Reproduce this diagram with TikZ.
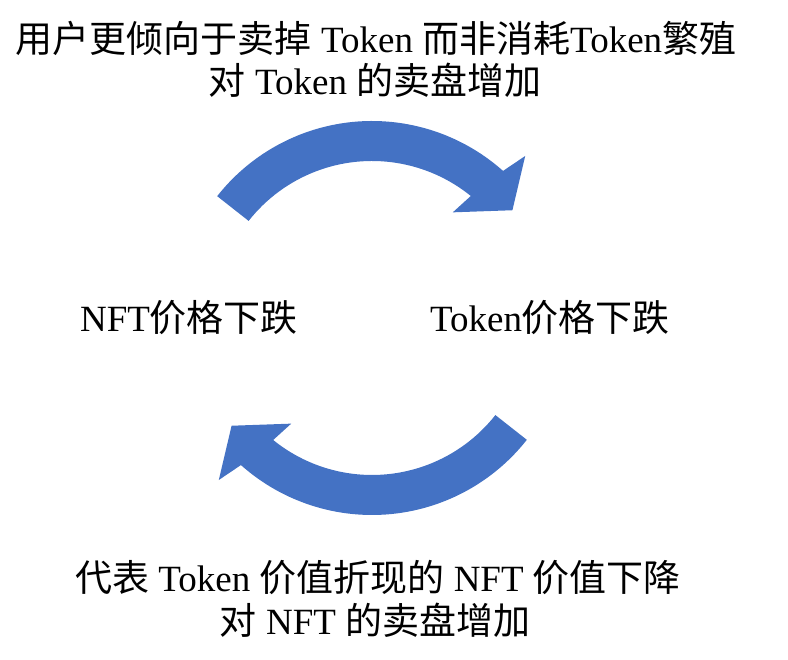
\documentclass[tikz,border=0pt]{standalone}
\usepackage{fontspec}
\setmainfont{Liberation Serif}
\newfontfamily\cjk{Noto Sans CJK SC}
\usepackage{xcolor}
\definecolor{loopblue}{HTML}{4472C4}
\usetikzlibrary{positioning}

\begin{document}
\begin{tikzpicture}[
  x=1pt, y=1pt,
  caption/.style={font=\fontsize{37}{41}\selectfont, inner sep=0pt, anchor=center},
  bandarrow/.style={fill=loopblue},
]
  \useasboundingbox (0,0) rectangle (788,660);
  \coordinate (hub) at (372,342);

  % Top captions
  \node[caption] (sellmore) at (376,622) {{\cjk 用户更倾向于卖掉} Token {\cjk 而非消耗}Token{\cjk 繁殖}};
  \node[caption] (tokensell) at (375,580) {{\cjk 对} Token {\cjk 的卖盘增加}};

  % Prices
  \node[caption] (nftdrop) at (189,342) {NFT{\cjk 价格下跌}};
  \node[caption] (tokendrop) at (550,342) {Token{\cjk 价格下跌}};

  % Bottom captions
  \node[caption] (valuedrop) at (378,82) {{\cjk 代表} Token {\cjk 价值折现的} NFT {\cjk 价值下降}};
  \node[caption] (nftsell) at (375,40) {{\cjk 对} NFT {\cjk 的卖盘增加}};

  % Curved arrows
  \foreach \turn in {0,180} {
    \begin{scope}[shift={(hub)}, rotate=\turn]
      \fill[bandarrow] (141.8:197pt) arc[start angle=141.8, end angle=48.3, radius=197pt]
        -- (46.6:223pt) -- (37.5:177pt) -- (52.6:133pt) -- (51:157pt)
        arc[start angle=51, end angle=141.8, radius=157pt] -- cycle;
    \end{scope}
  }
\end{tikzpicture}
\end{document}
